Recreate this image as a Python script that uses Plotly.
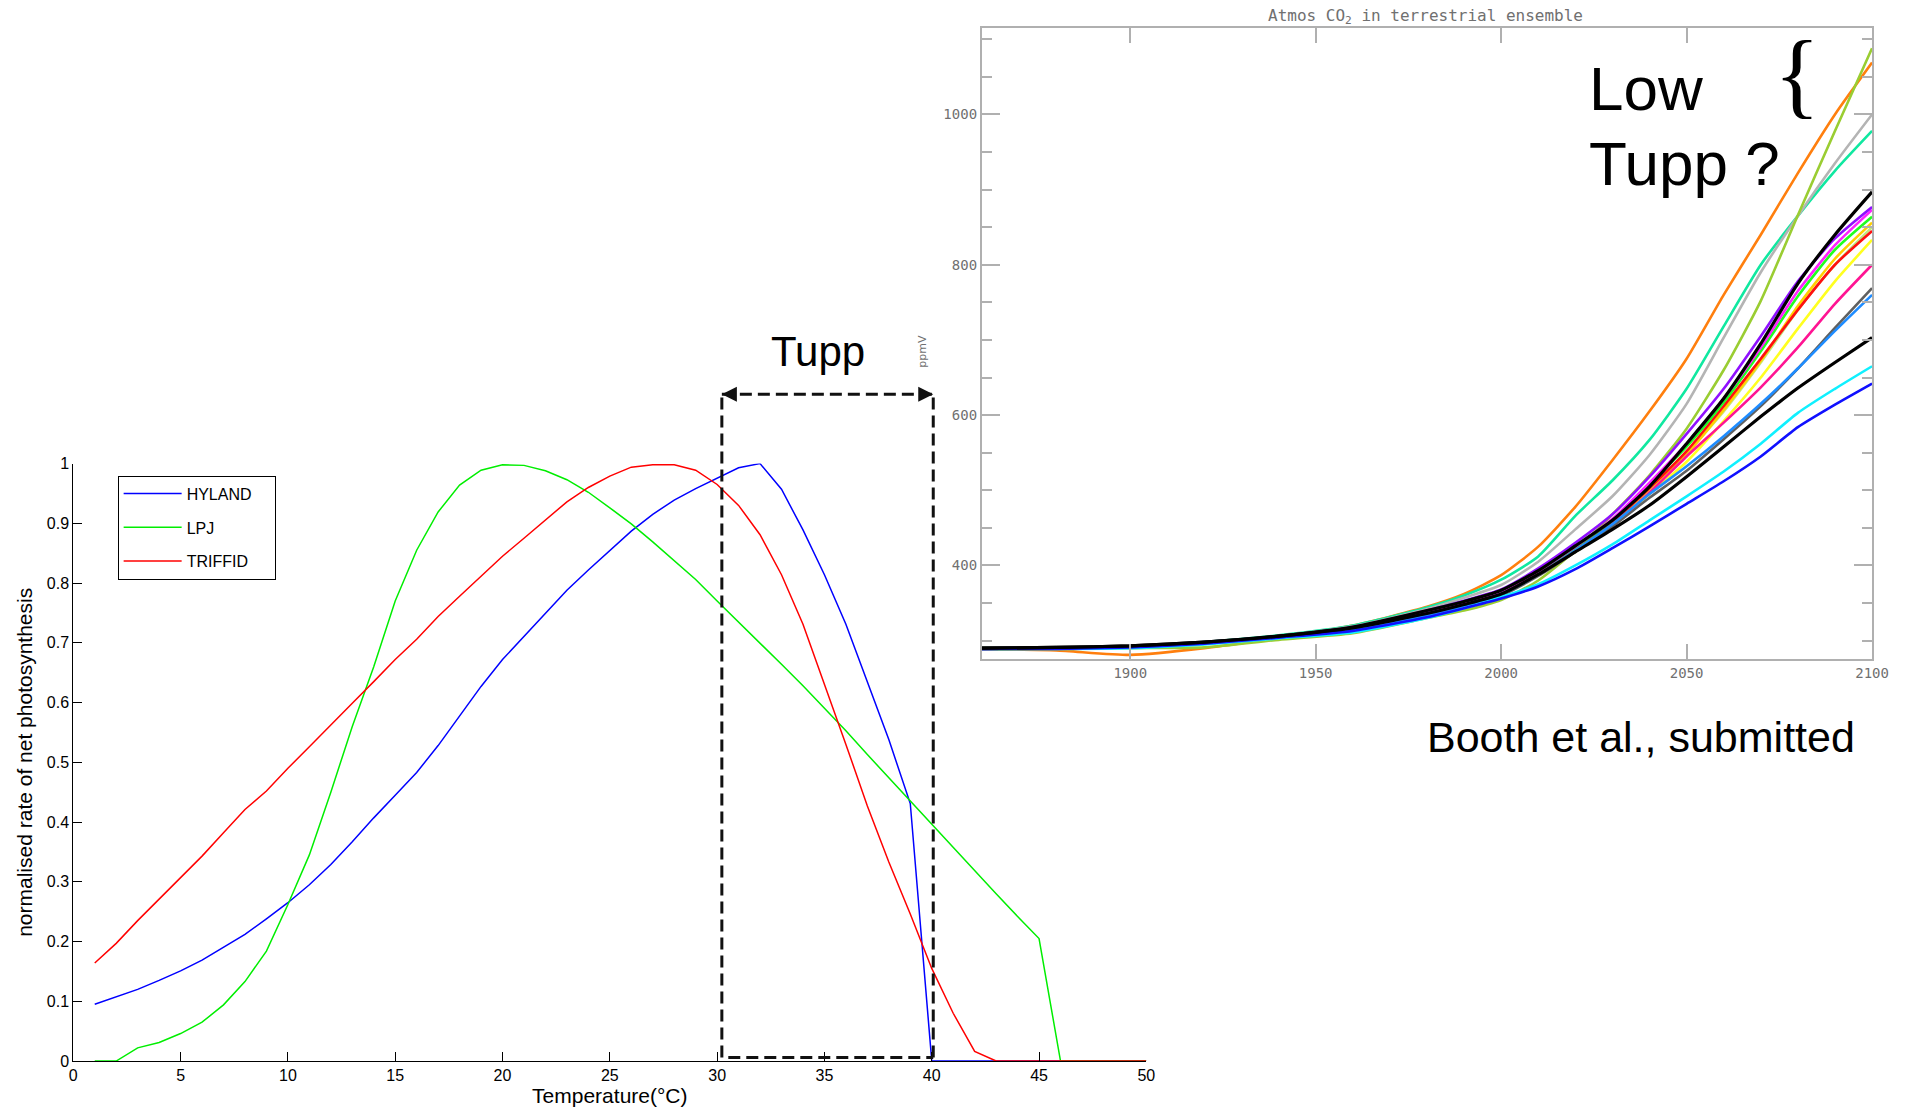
import plotly.graph_objects as go

W, H = 1905, 1111

# ---------------- Left panel data: normalised net photosynthesis vs temperature
temp = list(range(1, 51))
hyland = [0.095, 0.108, 0.120, 0.135, 0.151, 0.169, 0.190, 0.212, 0.238, 0.265,
          0.295, 0.329, 0.367, 0.407, 0.445, 0.483, 0.528, 0.577, 0.627, 0.672,
          0.711, 0.750, 0.788, 0.822, 0.855, 0.887, 0.915, 0.939, 0.958, 0.976,
          0.993, 1.000, 0.957, 0.889, 0.814, 0.731, 0.636, 0.538, 0.431, 0.0,
          0.0, 0.0, 0.0, 0.0, 0.0, 0.0, 0.0, 0.0, 0.0, 0.0]
lpj = [0.0, 0.0, 0.022, 0.031, 0.046, 0.065, 0.094, 0.133, 0.184, 0.262,
       0.345, 0.450, 0.560, 0.660, 0.770, 0.855, 0.919, 0.964, 0.989, 0.998,
       0.997, 0.988, 0.973, 0.952, 0.926, 0.899, 0.869, 0.838, 0.806, 0.770,
       0.735, 0.700, 0.664, 0.628, 0.590, 0.553, 0.513, 0.474, 0.435, 0.397,
       0.357, 0.318, 0.280, 0.242, 0.205, 0.0, 0.0, 0.0, 0.0, 0.0]
triffid = [0.164, 0.197, 0.235, 0.271, 0.307, 0.343, 0.382, 0.421, 0.452, 0.490,
           0.526, 0.563, 0.599, 0.635, 0.672, 0.706, 0.744, 0.778, 0.812, 0.845,
           0.875, 0.905, 0.936, 0.960, 0.979, 0.994, 0.998, 0.998, 0.989, 0.965,
           0.930, 0.881, 0.814, 0.731, 0.632, 0.530, 0.427, 0.333, 0.246, 0.155,
           0.080, 0.016, 0.0, 0.0, 0.0, 0.0, 0.0, 0.0, 0.0, 0.0]
left_names = ["HYLAND", "LPJ", "TRIFFID"]
left_colors = ["#0000ff", "#00ee00", "#ff0000"]

# Tupp bracket (temperatures and heights in data units)
tupp_lo, tupp_hi = 30.22, 40.07
tupp_top, tupp_bottom = 1.116, 0.006

# ---------------- Right panel data: atmospheric CO2 ensemble (ppmV)
years = [1860, 1880, 1900, 1920, 1940, 1960, 1980, 1990, 2000, 2010,
         2020, 2030, 2040, 2050, 2060, 2070, 2080, 2090, 2100]
co2_orange = [289, 287, 281, 290, 304, 320, 345, 362, 387, 425, 478, 540, 605, 675, 760, 840, 922, 1000, 1069]
co2_teal = [290, 291, 292, 298, 307, 320, 344, 360, 381, 412, 466, 513, 567, 635, 718, 800, 865, 925, 978]
co2_lgray = [289, 290, 292, 297, 306, 319, 342, 357, 374, 405, 448, 492, 547, 615, 703, 790, 865, 935, 1000]
co2_ygreen = [288, 289, 290, 291, 301, 310, 330, 340, 354, 380, 420, 468, 520, 582, 660, 752, 866, 978, 1088]
co2_purple = [290, 291, 292, 298, 306, 318, 340, 353, 368, 396, 430, 468, 518, 575, 635, 705, 778, 835, 877]
co2_magenta = [289, 290, 292, 297, 305, 316, 337, 350, 366, 393, 425, 462, 510, 562, 622, 690, 765, 826, 873]
co2_lime = [290, 290, 292, 297, 306, 317, 339, 352, 366, 392, 424, 460, 508, 558, 617, 685, 758, 820, 864]
co2_khaki = [289, 290, 291, 296, 305, 316, 337, 350, 364, 390, 420, 455, 500, 550, 605, 670, 740, 800, 850]
co2_gold = [289, 290, 292, 297, 305, 316, 338, 351, 365, 391, 422, 457, 502, 548, 607, 672, 745, 808, 856]
co2_yellow = [290, 290, 292, 297, 305, 316, 336, 349, 363, 388, 418, 452, 495, 538, 592, 650, 715, 778, 833]
co2_red = [289, 290, 292, 297, 305, 317, 338, 351, 366, 391, 423, 458, 503, 552, 612, 675, 740, 800, 845]
co2_pink = [289, 290, 292, 297, 305, 316, 336, 348, 362, 389, 419, 452, 497, 545, 590, 637, 690, 748, 800]
co2_dodger = [289, 290, 291, 296, 304, 314, 333, 346, 362, 388, 420, 455, 495, 532, 572, 615, 662, 712, 760]
co2_dgray = [289, 290, 292, 297, 305, 316, 334, 346, 360, 386, 418, 452, 490, 526, 568, 612, 662, 716, 769]
co2_cyan = [289, 289, 290, 295, 303, 311, 330, 343, 358, 375, 400, 428, 460, 492, 525, 562, 603, 635, 665]
co2_blue = [289, 289, 291, 296, 304, 313, 331, 343, 356, 372, 395, 423, 452, 482, 512, 545, 584, 614, 642]
co2_black2 = [290, 291, 293, 298, 306, 317, 336, 348, 362, 388, 418, 448, 480, 518, 558, 598, 636, 670, 703]
co2_black = [290, 291, 293, 298, 306, 318, 340, 352, 367, 393, 426, 460, 505, 562, 622, 695, 775, 840, 897]

ensemble = [
    (co2_orange, "#ff7f0e"), (co2_teal, "#10e8a0"), (co2_lgray, "#b4b4b4"),
    (co2_ygreen, "#9acd32"), (co2_khaki, "#c0e880"), (co2_yellow, "#ffff20"),
    (co2_gold, "#ffd000"), (co2_red, "#ff1010"), (co2_lime, "#20ff20"),
    (co2_magenta, "#ff20ff"), (co2_purple, "#9010ff"), (co2_pink, "#ff1493"),
    (co2_dgray, "#606060"), (co2_dodger, "#1e8cff"), (co2_cyan, "#10f0ff"),
    (co2_blue, "#1010ff"), (co2_black2, "#000000"), (co2_black, "#000000"),
]

# ---------------- Layout geometry: page pixels -> paper fractions
OFFX, AW = 1, 1890
OFFY, AH = 8, 1095

def px_x(p):
    return (p - OFFX) / AW

def px_y(p):
    return 1 - (p - OFFY) / AH

L_x = [px_x(70.5), px_x(1147)]
L_y = [px_y(1062), px_y(464)]
R_x = [px_x(982), px_x(1875)]
R_y = [px_y(660), px_y(28)]

def ly_paper(v):
    return L_y[0] + v * (L_y[1] - L_y[0])

fig = go.Figure()

# legend labels padded on the right so the legend box matches the original width
legend_pad = {"HYLAND": "\u00a0\u00a0\u00a0\u00a0", "LPJ": "", "TRIFFID": ""}

for name, vals, col in zip(left_names, [hyland, lpj, triffid], left_colors):
    fig.add_trace(go.Scatter(x=temp, y=vals, mode="lines", name=name + legend_pad[name],
                             legendgroup=name,
                             line=dict(color=col, width=1.5),
                             xaxis="x", yaxis="y"))

for vals, col in ensemble:
    w = 3.2 if col == "#000000" else 2.6
    fig.add_trace(go.Scatter(x=years, y=vals, mode="lines", showlegend=False,
                             line=dict(color=col, width=w, shape="spline", smoothing=0.6),
                             xaxis="x2", yaxis="y2", hoverinfo="skip"))

font_main = "Liberation Sans, Arial, sans-serif"
font_idl = "DejaVu Sans Mono, monospace"
grey = "#b0b0b0"

shapes = []
dash = "12px,6px"
for x0, y0, x1, y1 in [(tupp_lo, tupp_bottom, tupp_lo, tupp_top),
                       (tupp_hi, tupp_bottom, tupp_hi, tupp_top),
                       (tupp_lo, tupp_top, tupp_hi, tupp_top),
                       (tupp_lo + 0.3, tupp_bottom, tupp_hi, tupp_bottom)]:
    shapes.append(dict(type="line", xref="x", yref="y domain",
                       x0=x0, y0=y0, x1=x1, y1=y1,
                       line=dict(color="#111111", width=3, dash=dash)))

annotations = [
    # Tupp label and arrowheads
    dict(x=(tupp_lo + tupp_hi) / 2 - 0.43, xref="x", y=px_y(352), yref="paper",
         text="Tupp", showarrow=False, font=dict(family=font_main, size=42, color="black"),
         xanchor="center", yanchor="middle"),
    dict(x=tupp_lo, xref="x", y=ly_paper(tupp_top), yref="paper", text="",
         showarrow=True, arrowhead=2, arrowsize=1.2, arrowwidth=2.5, arrowcolor="#111111",
         ax=14, ay=0, standoff=0),
    dict(x=tupp_hi, xref="x", y=ly_paper(tupp_top), yref="paper", text="",
         showarrow=True, arrowhead=2, arrowsize=1.2, arrowwidth=2.5, arrowcolor="#111111",
         ax=-14, ay=0, standoff=0),
    # right panel title and y label
    dict(x=px_x(1427), y=px_y(17), xref="paper", yref="paper",
         text="Atmos CO<sub>2</sub> in terrestrial ensemble", showarrow=False,
         font=dict(family=font_idl, size=16, color="#707070"),
         xanchor="center", yanchor="middle"),
    dict(x=px_x(923), y=px_y(352), xref="paper", yref="paper", text="ppmV",
         showarrow=False, textangle=-90, font=dict(family="DejaVu Sans", size=11, color="#707070"),
         xanchor="center", yanchor="middle"),
    # overlay texts
    dict(x=px_x(1589), y=px_y(52), xref="paper", yref="paper", text="Low",
         showarrow=False, align="left", xanchor="left", yanchor="top",
         font=dict(family=font_main, size=62, color="black")),
    dict(x=px_x(1589), y=px_y(127), xref="paper", yref="paper", text="Tupp ?",
         showarrow=False, align="left", xanchor="left", yanchor="top",
         font=dict(family=font_main, size=62, color="black")),
    dict(x=px_x(1800), y=px_y(74), xref="paper", yref="paper", text="{",
         showarrow=False, xanchor="center", yanchor="middle",
         font=dict(family="Liberation Serif, serif", size=96, color="black")),
    dict(x=px_x(1643), y=px_y(738), xref="paper", yref="paper", text="Booth et al., submitted",
         showarrow=False, xanchor="center", yanchor="middle",
         font=dict(family=font_main, size=43, color="black")),
]

fig.update_layout(
    width=W, height=H,
    margin=dict(l=0, r=0, t=0, b=0),
    paper_bgcolor="white", plot_bgcolor="white",
    font=dict(family=font_main, color="black"),
    showlegend=True,
    legend=dict(x=px_x(115), y=px_y(476), xanchor="left", yanchor="top",
                bgcolor="white", bordercolor="black", borderwidth=1,
                font=dict(family=font_main, size=16, color="black"),
                itemwidth=58, tracegroupgap=10),
    xaxis=dict(domain=L_x, range=[0, 50], anchor="y", dtick=5, tick0=0,
               ticks="inside", ticklen=9, tickcolor="black", showline=True,
               linecolor="black", linewidth=1, showgrid=False, zeroline=False,
               tickfont=dict(size=16), title=dict(text="Temperature(°C)", font=dict(size=21), standoff=5)),
    yaxis=dict(domain=L_y, range=[0, 1], anchor="x", dtick=0.1, tick0=0,
               ticks="inside", ticklen=9, tickcolor="black", showline=True,
               linecolor="black", linewidth=1, showgrid=False, zeroline=False,
               tickfont=dict(size=16),
               title=dict(text="normalised rate of net photosynthesis", font=dict(size=21), standoff=8)),
    xaxis2=dict(domain=R_x, range=[1860, 2100], anchor="y2", dtick=50, tick0=1900,
                ticks="inside", ticklen=15, tickwidth=2, tickcolor=grey,
                showline=True, linecolor=grey, linewidth=2, mirror="allticks",
                showgrid=False, zeroline=False,
                tickfont=dict(family=font_idl, size=14, color="#707070")),
    yaxis2=dict(domain=R_y, range=[275, 1115], anchor="x2", dtick=200, tick0=0,
                ticks="inside", ticklen=18, tickwidth=2, tickcolor=grey,
                showline=True, linecolor=grey, linewidth=2, mirror="allticks",
                showgrid=False, zeroline=False,
                minor=dict(dtick=50, tick0=0, ticks="inside", ticklen=10, tickwidth=2, tickcolor=grey),
                tickfont=dict(family=font_idl, size=14, color="#707070")),
    shapes=shapes,
    annotations=annotations,
)

fig.write_html("out.html")
